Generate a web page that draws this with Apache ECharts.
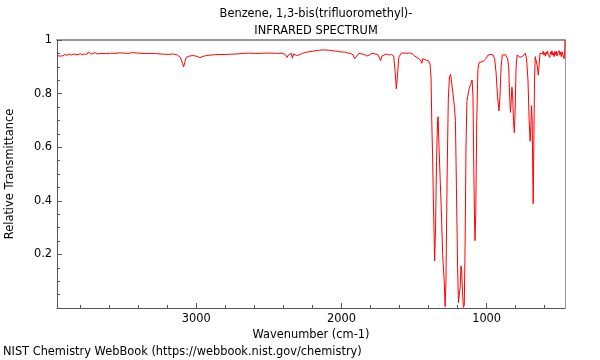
<!DOCTYPE html>
<html>
<head>
<meta charset="utf-8">
<script src="https://cdn.jsdelivr.net/npm/echarts@6/dist/echarts.min.js"></script>
<style>html,body{margin:0;padding:0;background:#fff}#c{width:600px;height:360px}</style>
</head>
<body>
<div id="c"></div>
<script>
var titleLines = ["Benzene, 1,3-bis(trifluoromethyl)-", "INFRARED SPECTRUM"];
var xAxisTitle = "Wavenumber (cm-1)";
var yAxisTitle = "Relative Transmittance";
var footer = "NIST Chemistry WebBook (https://webbook.nist.gov/chemistry)";
var xMajorTicks = [1000, 2000, 3000];
var xMinorTicks = [600, 800, 1200, 1400, 1600, 1800, 2200, 2400, 2600, 2800, 3200, 3400, 3600, 3800];
var wavenumbers = [
3960,3950,3940,3930,3920,3905,3890,3875,3860,3845,3830,3815,3800,3785,3770,3755,3745,3740,3720,3700,3680,3650,3620,3590,3560,3530,3500,3488,3470,3440,3400,3360,3320,3280,3250,3220,3190,3160,3130,3110,3095,3088,3080,3070,3050,3020,2990,2975,2960,2930,2900,2870,2840,2800,2760,2720,2680,2640,2600,2560,2520,2480,2440,2410,2390,2375,2365,2355,2345,2338,2330,2310,2290,2270,2240,2210,2180,2150,2120,2090,2060,2030,2000,1980,1960,1940,1920,1910,1902,1895,1880,1860,1840,1825,1816,1808,1790,1770,1750,1740,1730,1722,1710,1690,1670,1655,1640,1630,1622,1614,1605,1590,1570,1550,1530,1510,1495,1480,1470,1455,1447,1440,1430,1415,1400,1390,1383,1378,1372,1365,1358,1352,1345,1338,1334,1328,1320,1310,1303,1300,1296,1292,1286,1280,1272,1264,1256,1248,1242,1232,1222,1215,1208,1200,1194,1188,1182,1177,1172,1166,1160,1154,1148,1142,1136,1130,1120,1110,1100,1094,1090,1084,1080,1075,1068,1060,1052,1040,1020,1005,990,970,955,945,935,925,915,908,900,892,880,870,855,848,842,836,832,826,821,815,809,803,797,790,780,770,760,750,740,733,725,715,707,700,695,691,686,682,679,675,670,665,658,650,644,638,632,625,620,615,610,605,600,595,590,585,580,575,570,565,560,555,550,545,540,535,530,525,520,515,510,505,500,495,490,485,480,475,470,466,462,460
];
var transmittance = [
0.942,0.946,0.940,0.944,0.941,0.946,0.943,0.947,0.944,0.948,0.945,0.946,0.949,0.945,0.948,0.946,0.955,0.950,0.947,0.953,0.948,0.950,0.949,0.951,0.950,0.952,0.951,0.955,0.950,0.953,0.951,0.950,0.950,0.949,0.948,0.947,0.946,0.948,0.944,0.935,0.912,0.900,0.915,0.935,0.940,0.942,0.938,0.934,0.938,0.942,0.944,0.945,0.946,0.946,0.947,0.948,0.950,0.951,0.950,0.950,0.951,0.951,0.950,0.951,0.947,0.935,0.945,0.942,0.950,0.932,0.948,0.942,0.945,0.950,0.955,0.957,0.960,0.962,0.963,0.962,0.960,0.958,0.955,0.955,0.952,0.950,0.945,0.930,0.928,0.940,0.950,0.948,0.945,0.940,0.935,0.944,0.950,0.948,0.946,0.935,0.923,0.940,0.945,0.948,0.944,0.946,0.940,0.880,0.818,0.870,0.935,0.950,0.952,0.950,0.952,0.948,0.940,0.935,0.938,0.925,0.913,0.930,0.928,0.925,0.922,0.910,0.860,0.700,0.560,0.350,0.176,0.300,0.550,0.700,0.714,0.600,0.480,0.330,0.200,0.170,0.170,0.100,0.005,0.100,0.500,0.780,0.863,0.872,0.868,0.800,0.752,0.700,0.450,0.150,0.020,0.025,0.080,0.157,0.140,0.060,0.002,0.010,0.250,0.600,0.770,0.790,0.820,0.835,0.851,0.790,0.600,0.350,0.251,0.350,0.700,0.890,0.915,0.920,0.922,0.930,0.944,0.946,0.944,0.930,0.880,0.790,0.736,0.790,0.900,0.944,0.946,0.945,0.930,0.900,0.800,0.730,0.760,0.824,0.800,0.700,0.654,0.750,0.900,0.944,0.944,0.935,0.930,0.940,0.945,0.951,0.930,0.850,0.700,0.622,0.680,0.755,0.700,0.500,0.389,0.600,0.850,0.938,0.935,0.900,0.869,0.910,0.951,0.945,0.955,0.948,0.958,0.944,0.952,0.940,0.956,0.947,0.958,0.943,0.950,0.935,0.955,0.946,0.960,0.944,0.952,0.938,0.957,0.945,0.958,0.940,0.952,0.947,0.960,0.943,0.955,0.938,0.956,0.945,0.952,0.930,0.960,1.0
];

var pts = wavenumbers.map(function (w, i) { return [w, transmittance[i]]; });
var FONT = 'DejaVu Sans';
var FS = 11.4;
var chart = echarts.init(document.getElementById('c'), null, {renderer: 'canvas'});
chart.setOption({
  animation: false,
  backgroundColor: '#fff',
  title: {
    text: titleLines.join('\n'),
    left: 311, top: 1, textAlign: 'center',
    textStyle: {fontFamily: FONT, fontSize: FS, fontWeight: 'normal', color: '#000', lineHeight: 17}
  },
  graphic: [{
    type: 'text', left: 3, top: 347,
    style: {text: footer, font: FS + 'px "DejaVu Sans"', fill: '#000'}
  }],
  grid: {left: 57, right: 35, top: 40, bottom: 52, containLabel: false, outerBoundsMode: 'none'},
  xAxis: [{
    type: 'value', position: 'bottom', min: 460, max: 3960, inverse: true,
    name: xAxisTitle, nameLocation: 'middle', nameGap: 18,
    nameTextStyle: {fontFamily: FONT, fontSize: FS, color: '#000'},
    axisLine: {show: true, lineStyle: {color: '#555', width: 1}},
    axisTick: {show: true, inside: true, length: 5, customValues: xMajorTicks, lineStyle: {color: '#555'}},
    axisLabel: {show: true, customValues: xMajorTicks, margin: 6, fontFamily: FONT, fontSize: FS, color: '#000',
      formatter: function (v) { return String(v); }},
    splitLine: {show: false}
  }, {
    type: 'value', position: 'bottom', min: 460, max: 3960, inverse: true,
    axisLine: {show: false},
    axisTick: {show: true, inside: true, length: 3, customValues: xMinorTicks, lineStyle: {color: '#555'}},
    axisLabel: {show: false, customValues: xMinorTicks},
    splitLine: {show: false}
  }, {
    type: 'value', position: 'top', min: 460, max: 3960, inverse: true,
    axisLine: {show: true, lineStyle: {color: '#999', width: 2}},
    axisTick: {show: false}, axisLabel: {show: false}, splitLine: {show: false}
  }],
  yAxis: [{
    type: 'value', position: 'left', min: 0, max: 1, interval: 0.2,
    name: yAxisTitle, nameLocation: 'middle', nameGap: 41,
    nameTextStyle: {fontFamily: FONT, fontSize: FS, color: '#000'},
    axisLine: {show: true, lineStyle: {color: '#555', width: 1}},
    axisTick: {show: true, inside: true, length: 5, lineStyle: {color: '#555'}},
    minorTick: {show: true, splitNumber: 4, length: 3, lineStyle: {color: '#555'}},
    axisLabel: {margin: 5, fontFamily: FONT, fontSize: FS, color: '#000',
      formatter: function (v) { return v === 0 ? '' : String(+v.toFixed(1)); }},
    splitLine: {show: false}
  }, {
    type: 'value', position: 'right', min: 0, max: 1,
    axisLine: {show: true, lineStyle: {color: '#999', width: 1}},
    axisTick: {show: false}, axisLabel: {show: false}, splitLine: {show: false}
  }],
  series: [{
    type: 'line', xAxisIndex: 0, yAxisIndex: 0, data: pts,
    showSymbol: false, symbol: 'none', smooth: false,
    lineStyle: {color: '#ff0000', width: 1},
    silent: true
  }]
});
</script>
</body>
</html>
